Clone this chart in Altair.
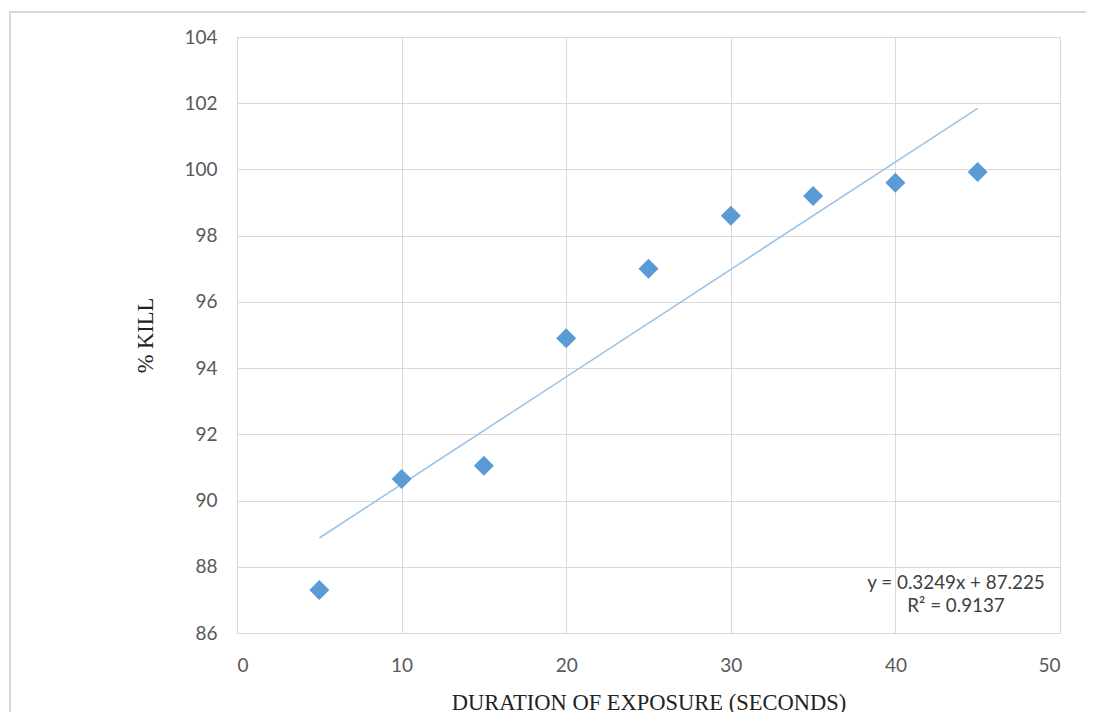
import altair as alt
import pandas as pd

duration = [5, 10, 15, 20, 25, 30, 35, 40, 45]
kill_pct = [87.3, 90.65, 91.05, 94.9, 97.0, 98.6, 99.2, 99.6, 99.92]
eq_lines = ["y = 0.3249x + 87.225", "R² = 0.9137"]
x_ticks = [0, 10, 20, 30, 40, 50]
y_ticks = [86, 88, 90, 92, 94, 96, 98, 100, 102, 104]

df = pd.DataFrame({"x": duration, "y": kill_pct})

W, H = 823, 596
LABEL_FONT = "Lato"
TITLE_FONT = "Liberation Serif"

xscale = alt.Scale(domain=[0, 50], nice=False, zero=False)
yscale = alt.Scale(domain=[86, 104], nice=False, zero=False)

base = alt.Chart(df)

points = base.mark_point(shape="diamond", filled=True, size=400, color="#5b9bd5", opacity=1).encode(
    x=alt.X("x:Q", scale=xscale,
            axis=alt.Axis(values=x_ticks, title="DURATION OF EXPOSURE (SECONDS)", grid=True,
                          domain=False, ticks=False, labelPadding=23, titlePadding=16)),
    y=alt.Y("y:Q", scale=yscale,
            axis=alt.Axis(values=y_ticks, title="% KILL", grid=True,
                          domain=False, ticks=False, labelPadding=20, titlePadding=26)),
)

trend = base.transform_regression("x", "y", method="linear").mark_line(
    color="#9dc3e6", strokeWidth=1.6
).encode(x=alt.X("x:Q", scale=xscale), y=alt.Y("y:Q", scale=yscale))

eq_layers = []
for txt, ypix in zip(eq_lines, [546, 569]):
    eq_layers.append(
        alt.Chart(pd.DataFrame({"t": [txt]})).mark_text(
            font=LABEL_FONT, fontSize=18.8, color="#404040", align="center", baseline="middle"
        ).encode(text="t:N", x=alt.value(719), y=alt.value(ypix))
    )

frame = alt.Chart(pd.DataFrame({"a": [0]})).mark_rect(
    fill=None, stroke="#d9d9d9", strokeWidth=2
).encode(x=alt.value(-227), x2=alt.value(880), y=alt.value(-25), y2=alt.value(720))

chart = alt.layer(frame, trend, points, *eq_layers).properties(
    width=W, height=H,
    padding={"left": 229, "top": 29, "right": 26, "bottom": 79},
    autosize=alt.AutoSizeParams(type="none"),
    background="white",
).configure_view(stroke="#d9d9d9", strokeWidth=1).configure_axis(
    gridColor="#d9d9d9", gridWidth=1,
    labelFont=LABEL_FONT, labelFontSize=19, labelColor="#595959",
    titleFont=TITLE_FONT, titleFontSize=22.5, titleColor="#222222", titleFontWeight="normal",
)

chart.save("out.html", embed_options={"renderer": "svg", "actions": False})
